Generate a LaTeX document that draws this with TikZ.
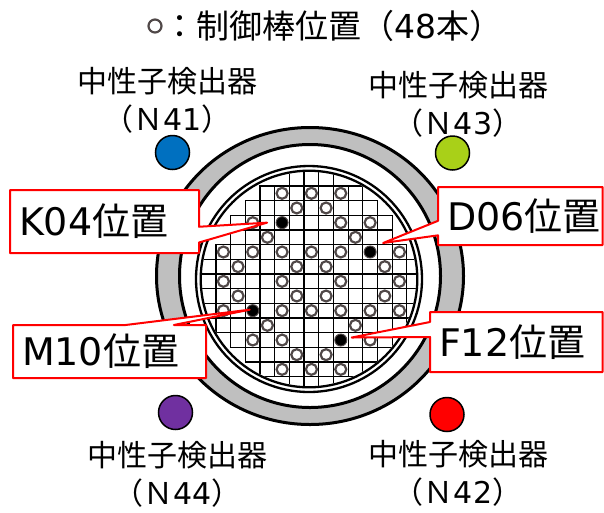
\documentclass[tikz,border=0pt]{standalone}
\usepackage{fontspec}
\setmainfont{DejaVu Sans}
\newfontfamily\jp{Noto Sans CJK JP}
\usetikzlibrary{positioning,calc}
\pgfdeclarelayer{front}
\pgfsetlayers{main,front}
\definecolor{rodgray}{RGB}{80,72,72}
\definecolor{ringgray}{RGB}{191,191,191}
\definecolor{tagred}{RGB}{255,0,0}
\definecolor{detblue}{RGB}{0,112,192}
\definecolor{detgreen}{RGB}{169,208,24}
\definecolor{detpurple}{RGB}{112,48,160}
\definecolor{detred}{RGB}{255,0,0}
\tikzset{
  cell/.style={draw=black, line width=1.2pt},
  rod/.style={circle, draw=rodgray, line width=2.2pt, fill=white, minimum size=11pt, inner sep=0pt},
  rodon/.style={circle, draw=rodgray, line width=1pt, fill=black, minimum size=12pt, inner sep=0pt},
  det/.style={circle, draw=black, line width=1.5pt, minimum size=34pt, inner sep=0pt},
  detlabel/.style={align=center, font=\fontsize{30}{38}\selectfont, inner sep=0pt},
  tag/.style={align=left, font=\fontsize{38}{38}\selectfont, inner xsep=9pt, inner ysep=0pt, outer sep=0pt},
  callout/.style={draw=tagred, line width=2pt, fill=white, line join=round}
}
\begin{document}
\begin{tikzpicture}[x=1pt,y=-1pt]
\useasboundingbox (0,0) rectangle (604,512);
\fill [ringgray, even odd rule] (310,276) ellipse [x radius=153.5, y radius=148.5] (310,276) ellipse [x radius=130.5, y radius=131.5];
\draw [line width=3pt] (310,276) ellipse [x radius=153.5, y radius=148.5];
\draw [line width=3pt] (310,276) ellipse [x radius=130.5, y radius=131.5];
\draw [line width=2.3pt] (309,279) circle (113) (309,279) circle (108.3);
\begin{scope}
\clip (309,279) circle (107);
\begin{scope}[shift={(201.4,171.3)}, x=14.67pt, y=-14.67pt]
\foreach \row/\first/\last in {0/6/8, 1/4/10, 2/3/11, 3/2/12, 4/2/12, 5/1/13, 6/0/14, 7/0/14, 8/0/14, 9/0/14, 10/1/13, 11/2/12, 12/3/11, 13/4/10, 14/6/8}
  \foreach \col in {\first,...,\last}
    \draw [cell] (\col,\row) rectangle ++(1,1);
\end{scope}
\end{scope}
\begin{scope}[shift={(201.4,171.3)}, x=14.67pt, y=-14.67pt]
\foreach \col/\row in {5/1,7/1,9/1, 6/2,8/2, 3/3,9/3,11/3, 4/4,10/4, 1/5,3/5,5/5,7/5,9/5,13/5, 2/6,6/6,8/6,12/6, 1/7,5/7,9/7,13/7, 2/8,6/8,8/8,12/8, 1/9,5/9,7/9,9/9,11/9,13/9, 4/10,10/10, 3/11,5/11,11/11, 6/12,8/12, 5/13,7/13,9/13}
  \node (r\col-\row) [rod] at (\col+.5,\row+.5) {};
\node (rK04) [rodon] at (5.5,3.5) {};
\node (rD06) [rodon] at (11.5,5.5) {};
\node (rM10) [rodon] at (3.5,9.5) {};
\node (rF12) [rodon] at (9.5,11.5) {};
\end{scope}
\node (n41) [det, fill=detblue] at (172.5,152.5) {};
\node (n43) [det, fill=detgreen] at (452.5,153) {};
\node (n44) [det, fill=detpurple] at (175.5,412.5) {};
\node (n42) [det, fill=detred] at (447,414.5) {};
\node (l41) [detlabel] at (167.5,100.2) {{\jp 中性子検出器}\\{\jp （Ｎ}41{\jp ）}};
\node (l43) [detlabel] at (458,104.5) {{\jp 中性子検出器}\\{\jp （Ｎ}43{\jp ）}};
\node (l44) [detlabel] at (177.5,474) {{\jp 中性子検出器}\\{\jp （Ｎ}44{\jp ）}};
\node (l42) [detlabel] at (458,473.5) {{\jp 中性子検出器}\\{\jp （Ｎ}42{\jp ）}};
\node (leg) [rod, minimum size=13pt] at (155,26) {};
\node (title) [right=1pt of leg, font=\fontsize{33}{33}\selectfont, inner sep=0pt] {{\jp ：制御棒位置（}48{\jp 本）}};
\begin{pgfonlayer}{front}
\node (k04) [tag, text width=171pt, minimum height=63pt] at (104.5,221.5) {K04{\jp 位置}};
\node (d06) [tag, text width=146.5pt, minimum height=58pt] at (520.25,216) {D06{\jp 位置}};
\node (m10) [tag, text width=175pt, minimum height=53pt] at (109.5,351.5) {M10{\jp 位置}};
\node (f12) [tag, text width=154.5pt, minimum height=60pt] at (516.25,342) {F12{\jp 位置}};
\end{pgfonlayer}
\coordinate (tk04) at ($(rK04)+(-15,0)$);
\coordinate (td06) at ($(rD06)+(13,-9)$);
\coordinate (tm10) at ($(rM10)+(-3,-1)$);
\coordinate (tf12) at ($(rF12)+(11,-2.5)$);
\draw [callout] (k04.north west) -- (k04.north east) -- ($(k04.north east)!7/12!(k04.south east)$) -- (tk04) -- ($(k04.north east)!10/12!(k04.south east)$) -- (k04.south east) -- (k04.south west) -- cycle;
\draw [callout] (d06.north west) -- (d06.north east) -- (d06.south east) -- (d06.south west) -- ($(d06.north west)!10/12!(d06.south west)$) -- (td06) -- ($(d06.north west)!7/12!(d06.south west)$) -- cycle;
\draw [callout] (m10.north west) -- ($(m10.north west)!7/12!(m10.north east)$) -- (tm10) -- ($(m10.north west)!10/12!(m10.north east)$) -- (m10.north east) -- (m10.south east) -- (m10.south west) -- cycle;
\draw [callout] (f12.north west) -- (f12.north east) -- (f12.south east) -- (f12.south west) -- ($(f12.north west)!5/12!(f12.south west)$) -- (tf12) -- ($(f12.north west)!2/12!(f12.south west)$) -- cycle;
\end{tikzpicture}
\end{document}
